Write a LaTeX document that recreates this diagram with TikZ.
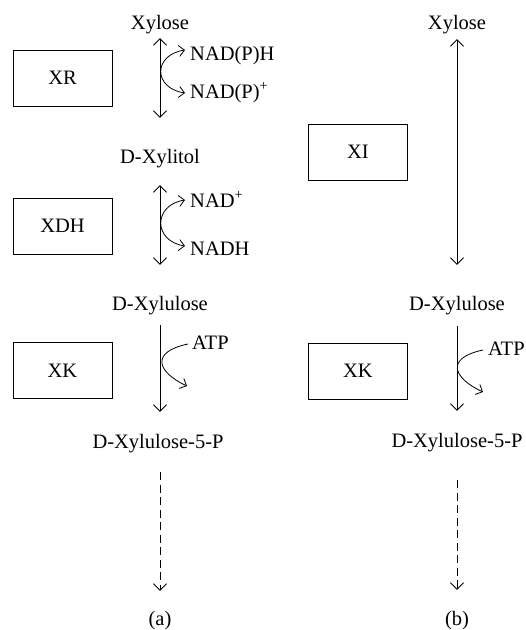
\documentclass[tikz,border=0pt]{standalone}
\usepackage{fontspec}
\setmainfont{Liberation Serif}
\usetikzlibrary{arrows.meta}
\begin{document}
\begin{tikzpicture}[x=1pt,y=-1pt,
  lbl/.style={inner sep=0pt,text height=14pt,text depth=4pt,font=\fontsize{20.5}{24}\selectfont},
  enz/.style={draw,line width=0.9pt,minimum width=99pt,minimum height=56pt,inner sep=0pt,font=\fontsize{20.5}{24}\selectfont},
  tipm/.tip={Straight Barb[length=6.5pt,width=13pt,line width=0.9pt]},
  tipc/.tip={Straight Barb[length=5.5pt,width=11pt,line width=0.8pt]},
  main/.style={line width=0.9pt},
  cur/.style={line width=0.8pt},
  dsh/.style={line width=0.8pt,dash pattern=on 8pt off 4.5pt}]
\useasboundingbox (0,0) rectangle (526,630);
% panel (a)
\node[lbl,anchor=base] (xylA) at (160,29) {Xylose};
\node[lbl,anchor=base west] (nadph) at (190,60) {NAD(P)H};
\node[lbl,anchor=base west] (nadp) at (190,98) {NAD(P)\textsuperscript{+}};
\node[lbl,anchor=base] (xylitol) at (160,163) {D-Xylitol};
\node[lbl,anchor=base west] (nadplus) at (190,207) {NAD\textsuperscript{+}};
\node[lbl,anchor=base west] (nadh) at (190,255) {NADH};
\node[lbl,anchor=base] (xulA) at (160,310) {D-Xylulose};
\node[lbl,anchor=base west] (atpA) at (192,349) {ATP};
\node[lbl,anchor=base] (x5pA) at (158,448) {D-Xylulose-5-P};
\node[lbl,anchor=base] (labA) at (160,625) {(a)};
\node[enz] (xr) at (62.5,78) {XR};
\node[enz] (xdh) at (62.5,226) {XDH};
\node[enz] (xkA) at (62.5,370.5) {XK};
% panel (b)
\node[lbl,anchor=base] (xylB) at (457,29) {Xylose};
\node[lbl,anchor=base] (xulB) at (457,310) {D-Xylulose};
\node[lbl,anchor=base west] (atpB) at (488,355) {ATP};
\node[lbl,anchor=base] (x5pB) at (457,447) {D-Xylulose-5-P};
\node[lbl,anchor=base] (labB) at (457,625) {(b)};
\node[enz] (xi) at (358,152) {XI};
\node[enz] (xkB) at (358,371) {XK};
% main arrows (a)
\draw[main,{tipm}-{tipm},shorten <=5pt,shorten >=31pt] (xylA.south) -- (xylitol.north);
\draw[main,{tipm}-{tipm},shorten <=18pt,shorten >=31pt] (xylitol.south) -- (xulA.north);
\draw[main,-{tipm},shorten <=11pt,shorten >=22pt] (xulA.south) -- (xulA.south |- x5pA.north);
\draw[dsh,-{tipm},shorten <=20pt,shorten >=20pt] (x5pA.south -| xulA.south) -- (labA.north);
% side curves (a)
\draw[cur,{tipc}-{tipc}] ([xshift=-5pt,yshift=5pt]nadph.west) .. controls +(-32,5) and +(-32,-5) .. ([xshift=-5pt,yshift=0pt]nadp.west);
\draw[cur,{tipc}-{tipc}] ([xshift=-5pt,yshift=2pt]nadplus.west) .. controls +(-32,5) and +(-32,-5) .. ([xshift=-5pt,yshift=4pt]nadh.west);
\coordinate (atpAend) at (187,386);
\draw[cur,-{tipc}] ([xshift=-4pt]atpA.west) .. controls +(-38,8) and +(-30,-14) .. (atpAend);
% main arrows (b)
\draw[main,{tipm}-{tipm},shorten <=6pt,shorten >=31pt] (xylB.south) -- (xulB.north);
\draw[main,-{tipm},shorten <=12pt,shorten >=22pt] (xulB.south) -- (x5pB.north);
\draw[dsh,-{tipm},shorten <=29pt,shorten >=21pt] (x5pB.south) -- (labB.north);
\coordinate (atpBend) at (483,392);
\draw[cur,-{tipc}] ([xshift=-5pt]atpB.west) .. controls +(-38,8) and +(-30,-14) .. (atpBend);
\end{tikzpicture}
\end{document}
